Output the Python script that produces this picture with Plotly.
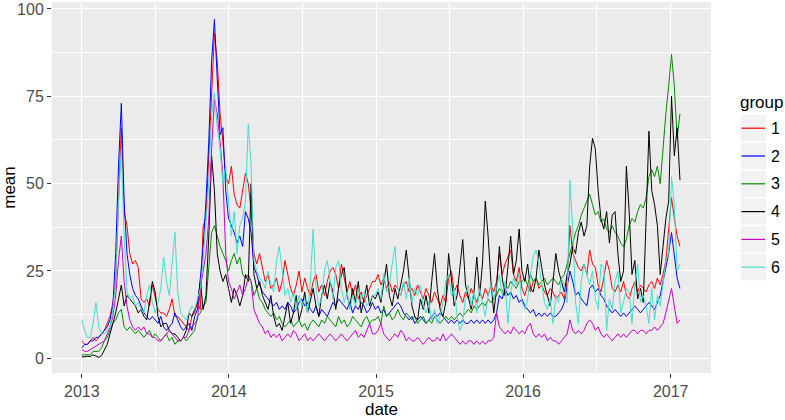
import pandas as pd
import plotly.graph_objects as go

# weekly dates (213 points, Jan 2013 - Jan 2017)
dates = pd.date_range("2013-01-01", periods=213, freq="7D")

groups = ["1", "2", "3", "4", "5", "6"]
colors = ["#FF0000", "#0000FF", "#008B00", "#000000", "#CD00CD", "#40E0D0"]

g1_2013 = [5,4,4,5,6,5,6,7,8,10, 12,16,22,45,66,42,38,30,27,28, 26,17,16,17,15,21,17,14,13,13,
           12,14,17,12,12,11,10,9,8,12, 13,16,14,38,40,58,78,93,85,70, 62,52]
g1_2014 = [50,55,47,44,43,48,53,50,42,30, 27,30,26,22,24,20,21,23,19,22, 28,24,20,18,21,25,19,23,20,18,
           22,24,19,21,18,22,25,26,24,20, 27,23,19,22,18,21,17,19,16,18, 20,22]
g1_2015 = [22,24,21,23,20,22,19,21,20,18, 21,22,19,20,18,21,19,17,20,18, 16,19,17,15,18,16,23,25,19,21,
           18,16,19,17,20,18,16,19,17,20, 18,21,19,22,30,24,27,29,31,24, 22,26]
g1_2016 = [20,18,21,19,22,23,20,21,19,18, 20,19,17,18,19,17,22,38,30,28, 26,25,27,24,31,27,26,21,19,23,
           28,25,20,19,21,19,22,18,17,20, 22,19,21,20,19,21,22,20,23,21, 24,28,36,46,40,35,32]

g2_2013 = [3,4,4,5,5,6,6,7,8,9, 11,15,30,55,73,45,30,24,20,18, 17,15,13,12,11,12,11,10,12,9,
           8,9,10,13,11,9,8,9,10,8, 12,14,22,32,45,62,85,97,80,64, 66,48]
g2_2014 = [40,38,36,33,35,32,42,40,36,26, 24,21,19,18,17,16,15,16,14,15, 14,16,15,13,14,16,17,15,16,14,
           13,15,12,14,13,12,14,16,15,17, 16,15,14,16,13,15,14,16,15,13, 14,16]
g2_2015 = [14,15,13,14,12,13,14,15,16,15, 13,12,11,12,10,11,12,11,10,11, 12,13,12,13,12,11,10,11,10,11,
           10,11,10,10,11,10,11,10,11,10, 11,10,11,13,18,17,20,18,19,17, 18,16]
g2_2016 = [17,15,14,13,14,12,13,12,13,12, 13,12,12,13,14,16,20,25,22,18, 19,17,16,15,20,21,19,20,18,17,
           15,14,13,14,13,12,13,12,13,14, 15,14,13,14,15,16,15,14,16,18, 22,26,30,36,29,23,20]

g3_2013 = [1,1,1,1,2,2,2,3,5,6, 8,10,11,13,14,9,8,9,8,7, 8,7,6,7,8,6,7,6,5,6,
           7,5,6,4,5,5,6,5,6,7, 8,12,13,15,16,26,36,38,35,32, 30,28]
g3_2014 = [25,28,30,27,29,24,23,24,22,18, 20,17,16,14,13,12,13,11,12,10, 9,10,11,9,10,11,9,10,8,10,
           11,10,9,11,10,12,11,10,9,12, 10,11,9,10,12,11,10,9,11,12, 10,11]
g3_2015 = [11,12,10,15,12,13,11,12,14,12, 11,13,12,11,12,10,11,12,10,11, 10,12,11,10,11,12,11,12,11,12,
           13,12,13,14,13,15,14,15,16,15, 17,16,17,18,20,19,21,20,22,21, 20,22]
g3_2016 = [22,23,21,24,22,23,21,22,23,21, 22,23,22,21,23,24,27,30,33,36, 38,41,43,45,47,44,41,42,39,40,
           37,36,38,36,35,33,32,34,38,40, 39,42,44,43,46,52,54,52,55,50, 61,70,78,87,78,63,70]

g4_2013 = [0.5,0.4,0.6,0.5,1,0.6,0.3,0.8,2.5,4, 7,10,13,17,21,15,18,17,16,15, 13,14,12,11,16,22,19,12,9,10,
           10,8,7,7,6,5,6,8,13,12, 14,16,22,14,18,35,58,48,30,25, 22,24]
g4_2014 = [20,16,20,18,15,18,24,22,50,24, 20,22,18,16,14,18,12,9,10,8, 12,16,10,13,18,11,14,19,13,17,
           20,15,12,18,21,17,22,19,14,20, 24,26,18,15,20,16,22,13,17,21, 15,18]
g4_2015 = [17,19,16,22,27,18,15,20,17,21, 25,31,22,15,12,11,17,14,18,13, 22,30,20,14,12,16,30,22,15,18,
           26,34,21,17,14,19,29,18,27,45, 35,22,13,20,32,23,18,26,35,24, 28,37]
g4_2016 = [25,22,27,20,19,23,31,26,21,18, 15,22,30,25,22,19,24,27,32,30, 36,39,35,38,55,63,60,48,40,37,
           42,33,41,42,30,22,25,55,42,24, 28,17,20,16,40,65,48,44,38,24, 32,40,45,75,58,66,51]

g5_2013 = [2.5,2,2,2.5,3,3.5,4,4.5,5,7, 9,12,18,28,35,22,15,11,9,8, 9,8,9,7,7,6,6,5,5,6,
           7,8,7,6,5,5,6,6,8,9, 10,11,20,25,30,40,60,74,70,62, 52,30]
g5_2014 = [22,20,17,19,21,18,20,23,22,14, 12,10,9,7,8,6,7,6,7,5, 6,7,6,8,7,5,6,7,5,6,
           5,6,7,6,5,6,7,6,5,6, 7,6,5,6,7,8,6,7,6,8, 10,7]
g5_2015 = [7,8,10,7,6,5,6,7,6,8, 7,5,6,5,5,6,5,4,5,6, 5,5,6,5,7,5,6,7,6,5,
           4,5,4,5,5,4,5,4,5,4, 5,5,6,13,9,8,7,8,7,9, 8,7]
g5_2016 = [8,7,9,10,7,6,7,6,7,5, 6,5,5,4,5,6,7,11,8,7, 8,7,8,10,11,10,8,9,7,6,
           7,6,5,6,7,6,7,6,7,8, 8,7,8,8,7,8,8,9,8,9, 10,13,17,20,15,10,11]

g6_2013 = [11,8,6,6,10,16,9,7,7,8, 9,14,22,45,60,35,19,17,18,15, 16,14,13,18,21,16,13,16,20,29,
           22,18,27,36,19,13,12,11,13,15, 14,17,20,28,40,50,70,76,66,60, 50,55]
g6_2014 = [45,35,42,30,38,40,45,67,55,28, 25,23,22,20,25,21,19,28,32,24, 18,20,16,19,14,18,15,17,13,22,
           37,20,15,17,25,28,22,17,26,28, 20,16,19,14,18,15,20,17,19,15, 16,18]
g6_2015 = [18,20,17,24,19,21,27,32,20,18, 22,17,23,16,20,18,21,15,13,16, 11,14,10,12,16,22,24,18,20,12,
           8,10,18,21,15,19,13,20,16,12, 18,21,17,20,24,18,22,10,19,23, 21,24]
g6_2016 = [16,14,17,24,29,31,27,22,16,14, 17,10,18,16,23,21,16,51,37,16, 10,22,27,24,21,25,17,14,27,26,
           8,17,14,22,25,13,16,20,19,10, 21,27,16,18,15,10,20,11,18,15, 22,28,30,52,44,25,27]

series = [
    g1_2013 + g1_2014 + g1_2015 + g1_2016,
    g2_2013 + g2_2014 + g2_2015 + g2_2016,
    g3_2013 + g3_2014 + g3_2015 + g3_2016,
    g4_2013 + g4_2014 + g4_2015 + g4_2016,
    g5_2013 + g5_2014 + g5_2015 + g5_2016,
    g6_2013 + g6_2014 + g6_2015 + g6_2016,
]

year_ticks = ["2013-01-01", "2014-01-01", "2015-01-01", "2016-01-01", "2017-01-01"]
year_labels = ["2013", "2014", "2015", "2016", "2017"]
x_minor = ["2013-07-02", "2014-07-02", "2015-07-02", "2016-07-01"]
y_ticks = [0, 25, 50, 75, 100]
y_minor = [12.5, 37.5, 62.5, 87.5]

fig = go.Figure()
for name, col, vals in zip(groups, colors, series):
    fig.add_trace(go.Scatter(x=dates, y=vals, mode="lines", name=name,
                             line=dict(color=col, width=1)))

L, R, T, B = 52, 711, 2, 373
W, H = 785, 420


def px(x):
    return (x - L) / (R - L)


def py(y):
    return (B - y) / (B - T)


fig.update_layout(
    width=W, height=H,
    margin=dict(l=L, r=W - R, t=T, b=H - B, pad=0, autoexpand=False),
    paper_bgcolor="white", plot_bgcolor="#EBEBEB",
    showlegend=False,
    font=dict(family="Liberation Sans, Arial, sans-serif"),
)
fig.update_xaxes(
    type="date", range=["2012-10-19", "2017-04-11"],
    tickvals=year_ticks, ticktext=year_labels,
    ticks="outside", ticklen=4, tickwidth=1, tickcolor="#333333",
    showgrid=True, gridcolor="white", gridwidth=1.1,
    zeroline=False, showline=False, automargin=False,
    tickfont=dict(size=16, color="#4D4D4D"),
    title=dict(text="date", font=dict(size=17, color="black"), standoff=2),
    minor=dict(tickvals=x_minor, showgrid=True, gridcolor="white", gridwidth=0.55, ticks=""),
)
fig.update_yaxes(
    range=[-4.2, 102.0],
    tickvals=y_ticks, ticktext=[str(v) for v in y_ticks],
    ticks="outside", ticklen=4, tickwidth=1, tickcolor="#333333",
    showgrid=True, gridcolor="white", gridwidth=1.1,
    zeroline=False, showline=False, automargin=False,
    tickfont=dict(size=16, color="#4D4D4D"),
    title=dict(text="mean", font=dict(size=17, color="black"), standoff=3),
    minor=dict(tickvals=y_minor, showgrid=True, gridcolor="white", gridwidth=0.55, ticks=""),
)

# legend (ggplot style)
shapes = []
annotations = [dict(x=px(738), y=py(103), xref="paper", yref="paper", text="group",
                    showarrow=False, xanchor="left", yanchor="middle",
                    font=dict(size=17, color="black"))]
for k, (name, col) in enumerate(zip(groups, colors)):
    cy = 128.2 + 27.8 * k
    shapes.append(dict(type="rect", xref="paper", yref="paper",
                       x0=px(740), x1=px(767), y0=py(cy + 13.9), y1=py(cy - 13.9),
                       fillcolor="#F2F2F2", line=dict(color="white", width=1.5), layer="below"))
    shapes.append(dict(type="line", xref="paper", yref="paper",
                       x0=px(741.5), x1=px(765), y0=py(cy), y1=py(cy),
                       line=dict(color=col, width=1.2)))
    annotations.append(dict(x=px(769), y=py(cy), xref="paper", yref="paper", text=name,
                            showarrow=False, xanchor="left", yanchor="middle",
                            font=dict(size=16, color="black")))
fig.update_layout(shapes=shapes, annotations=annotations)

fig.write_html("out.html", config={"displayModeBar": False},
               post_script="document.body.style.margin='0px';document.body.style.overflow='hidden';")
